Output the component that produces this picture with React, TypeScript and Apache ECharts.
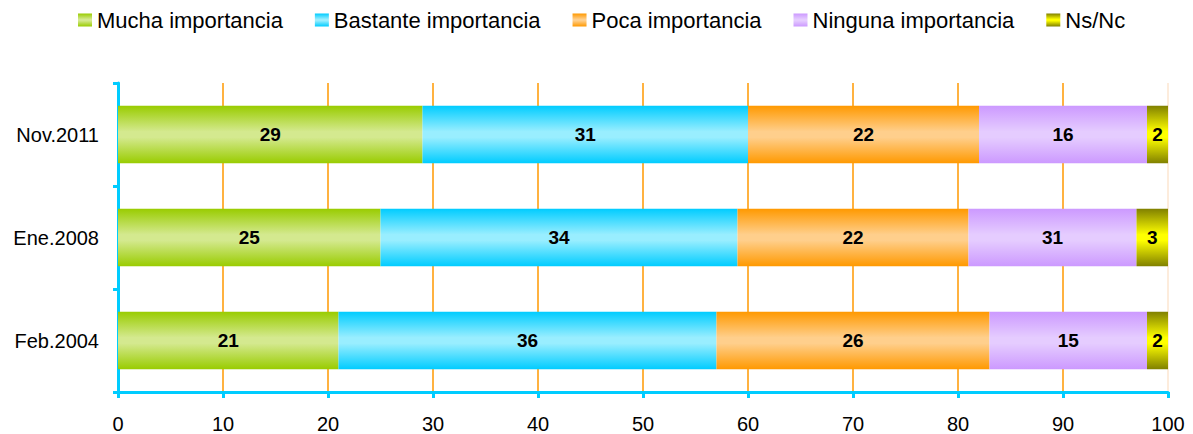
import React, { useEffect, useRef } from "react";
import * as echarts from "echarts";

const categories = ["Feb.2004", "Ene.2008", "Nov.2011"];
const seriesNames = ["Mucha importancia", "Bastante importancia", "Poca importancia", "Ninguna importancia", "Ns/Nc"];
const mucha = [21, 25, 29];
const bastante = [36, 34, 31];
const poca = [26, 22, 22];
const ninguna = [15, 16, 16];
const nsnc = [2, 3, 2];
// printed labels (the original prints 31 on the Ene.2008 "Ninguna" segment)
const muchaLabels = ["21", "25", "29"];
const bastanteLabels = ["36", "34", "31"];
const pocaLabels = ["26", "22", "22"];
const ningunaLabels = ["15", "31", "16"];
const nsncLabels = ["2", "3", "2"];
const xTicks = [0, 10, 20, 30, 40, 50, 60, 70, 80, 90, 100];

const FONT = "'Liberation Sans', Arial, sans-serif";

const grad = (edge: string, center: string) =>
  new echarts.graphic.LinearGradient(0, 0, 0, 1, [
    { offset: 0, color: edge },
    { offset: 0.45, color: center },
    { offset: 0.55, color: center },
    { offset: 1, color: edge },
  ]);

export default function App() {
  const ref = useRef<HTMLDivElement>(null);
  useEffect(() => {
    if (!ref.current) return;
    const chart = echarts.init(ref.current, null, { renderer: "svg" });
    const values = [mucha, bastante, poca, ninguna, nsnc];
    const labels = [muchaLabels, bastanteLabels, pocaLabels, ningunaLabels, nsncLabels];
    const colors = [
      ["#99CC00", "#D4E98F"],
      ["#00CCFF", "#99EEFF"],
      ["#FF9900", "#FFCF8C"],
      ["#CC99FF", "#E5CCFF"],
      ["#808000", "#FFFF00"],
    ];
    const splitColors = xTicks.map((t) => (t === 100 ? "#FDE6D0" : "#FF9900"));
    chart.setOption({
      animation: false,
      legend: {
        top: 9,
        left: 78,
        padding: 0,
        itemGap: 32,
        itemWidth: 14,
        itemHeight: 13,
        icon: "rect",
        textStyle: { fontFamily: FONT, fontSize: 22, color: "#000" },
        data: seriesNames,
      },
      grid: { left: 118, right: 25, top: 83, bottom: 41, containLabel: false },
      xAxis: {
        type: "value",
        min: 0,
        max: 100,
        interval: 10,
        axisLine: { show: true, lineStyle: { color: "#00CCFF", width: 3 } },
        axisTick: { show: true, length: 6, lineStyle: { color: "#00CCFF", width: 3 } },
        axisLabel: {
          fontFamily: FONT,
          fontSize: 20,
          color: "#000",
          margin: 22,
        },
        splitLine: { show: true, lineStyle: { color: splitColors, width: 1.5 } },
      },
      yAxis: {
        type: "category",
        data: categories,
        axisLine: { show: true, lineStyle: { color: "#00CCFF", width: 3 } },
        axisTick: { show: true, length: 5, lineStyle: { color: "#00CCFF", width: 3 } },
        axisLabel: {
          fontFamily: FONT,
          fontSize: 20,
          color: "#000",
          margin: 19,
        },
      },
      series: seriesNames.map((name, i) => ({
        name,
        type: "bar",
        stack: "total",
        barWidth: "56%",
        data: values[i],
        itemStyle: { color: grad(colors[i][0], colors[i][1]) },
        label: {
          show: true,
          position: "inside",
          fontFamily: FONT,
          fontSize: 19,
          fontWeight: "bold",
          color: "#000",
          formatter: (p: any) => labels[i][p.dataIndex],
        },
      })),
    });
    return () => chart.dispose();
  }, []);
  return <div ref={ref} style={{ width: 1193, height: 434, position: "absolute", left: 0, top: 0 }} />;
}
